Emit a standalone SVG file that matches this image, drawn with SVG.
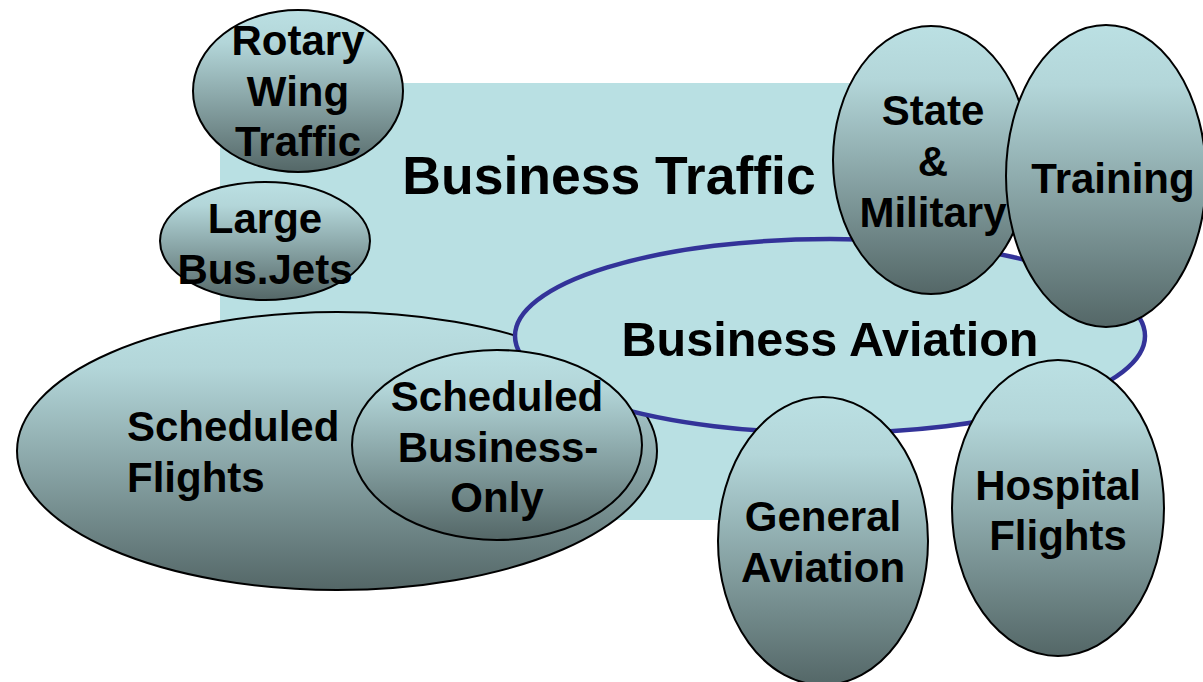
<svg xmlns="http://www.w3.org/2000/svg" width="1203" height="682" viewBox="0 0 1203 682">
<defs>
<linearGradient id="g" x1="0" y1="0" x2="0" y2="1">
<stop offset="0" stop-color="#bbe0e3"/>
<stop offset="0.2" stop-color="#b3d6d9"/>
<stop offset="1" stop-color="#546767"/>
</linearGradient>
<style>
.n{fill:url(#g);stroke:#000;stroke-width:2}
.t{font-family:"Liberation Sans",Arial,sans-serif;font-weight:bold;font-size:42px;fill:#000;text-anchor:middle}
</style>
</defs>
<rect x="220" y="83" width="636" height="437" fill="#b9e0e3"/>
<text class="t" x="609" y="194" style="font-size:53.5px">Business Traffic</text>
<g id="rotary">
<ellipse class="n" cx="298" cy="91" rx="105" ry="81"/>
<text class="t" x="298" y="55">Rotary</text>
<text class="t" x="298" y="106">Wing</text>
<text class="t" x="298" y="156">Traffic</text>
</g>
<g id="large">
<ellipse class="n" cx="265" cy="241" rx="105" ry="59"/>
<text class="t" x="265" y="233">Large</text>
<text class="t" x="265" y="284">Bus.Jets</text>
</g>
<g id="scheduled">
<ellipse class="n" cx="337" cy="451" rx="320" ry="139"/>
<text class="t" x="127" y="441" style="text-anchor:start">Scheduled</text>
<text class="t" x="127" y="492" style="text-anchor:start">Flights</text>
</g>
<g id="bizav">
<ellipse cx="830" cy="336" rx="315" ry="97" fill="#b9e0e3" stroke="#333399" stroke-width="4.5"/>
<text class="t" x="830" y="356" style="font-size:48.5px">Business Aviation</text>
</g>
<g id="schedbiz">
<ellipse class="n" cx="497" cy="445" rx="145" ry="95"/>
<text class="t" x="497" y="411">Scheduled</text>
<text class="t" x="498" y="462">Business-</text>
<text class="t" x="497" y="512">Only</text>
</g>
<g id="general">
<ellipse class="n" cx="823" cy="541" rx="105" ry="144"/>
<text class="t" x="823" y="531">General</text>
<text class="t" x="823" y="582">Aviation</text>
</g>
<g id="hospital">
<ellipse class="n" cx="1058" cy="508" rx="106" ry="148"/>
<text class="t" x="1058" y="500">Hospital</text>
<text class="t" x="1058" y="550">Flights</text>
</g>
<g id="state">
<ellipse class="n" cx="931" cy="160" rx="98" ry="134"/>
<text class="t" x="933" y="125">State</text>
<text class="t" x="933" y="176">&amp;</text>
<text class="t" x="933" y="227">Military</text>
</g>
<g id="training">
<ellipse class="n" cx="1106" cy="176" rx="100" ry="151"/>
<text class="t" x="1113" y="193">Training</text>
</g>
<g id="connectors"/>
</svg>
